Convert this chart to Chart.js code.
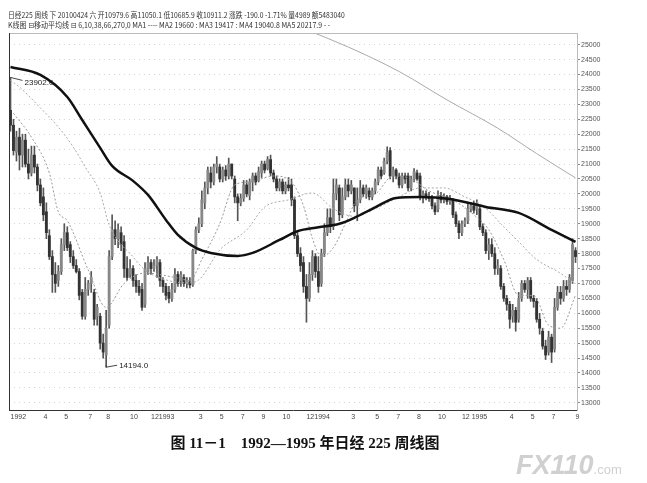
<!DOCTYPE html>
<html>
<head>
<meta charset="utf-8">
<script src="https://cdn.jsdelivr.net/npm/chart.js@4.4.0/dist/chart.umd.min.js"></script>
<style>
  body { margin: 0; background: #fff; }
  #wrap { position: relative; width: 647px; height: 483px; overflow: hidden; }
  #c { position: absolute; left: 0; top: 0; }
  .hdr { position: absolute; left: 8px; white-space: nowrap; color: #333;
         font-family: "Noto Sans CJK SC", "DejaVu Sans", sans-serif; font-size: 8px;
         transform-origin: 0 0; }
  #title { position: absolute; left: 0; width: 610px; top: 431px; text-align: center;
           font-family: "Liberation Serif", "Noto Sans CJK SC", serif; font-weight: bold;
           font-size: 15px; color: #111; }
  #wm { position: absolute; left: 516px; top: 450px; color: #d0d0d0;
        font-family: "Liberation Sans", sans-serif; font-weight: bold; font-style: italic;
        font-size: 27px; }
  #wm span { font-size: 13px; font-style: normal; font-weight: normal; }
</style>
</head>
<body>
<div id="wrap">
  <canvas id="c" width="647" height="483"></canvas>
  <div class="hdr" id="h1" style="top:9px">日经225 周线 下 20100424 六 开10979.6 高11050.1 低10685.9 收10911.2 涨跌 -190.0 -1.71% 量4989 额5483040</div>
  <div class="hdr" id="h2" style="top:19px">K线图 ⊟移动平均线 ⊟ 6,10,38,66,270,0 MA1 ---- MA2 19660 : MA3 19417 : MA4 19040.8 MA5 20217.9 - -</div>
  <div id="title">图 11－1　1992—1995 年日经 225 周线图</div>
  <div id="wm">FX110<span>.com</span></div>
</div>
<script>
// 週K線資料 (1992-1995)
const opens = [22800,22300,21400,21900,21300,21800,21000,20700,21300,20900,
  20300,19900,19400,18600,17900,17300,17100,17400,18300,18700,
  18300,17900,17600,17400,16700,15900,16800,17000,16700,15900,
  15900,15000,14600,15600,17900,18800,18500,18700,18400,17500,
  17300,17500,17100,16900,16800,16300,17400,17700,17500,17600,
  17700,17100,16900,16700,16500,16800,17300,17100,17200,17000,
  17050,16950,18100,18800,19000,19700,20200,20700,20400,20900,
  20900,20500,20800,20600,21000,20500,19900,19700,19850,20300,
  19950,20400,20600,20450,20700,21000,20850,21150,20700,20500,
  20200,20400,20100,20300,20300,19800,18600,18000,17700,16900,
  16500,17300,17900,17400,17000,18000,18700,19200,18900,20000,
  20200,19300,19900,20300,20100,20200,19600,19800,20200,20000,
  20100,19900,20100,20400,20800,20700,21100,21450,20600,20800,
  20600,20300,20600,20600,20200,20500,20700,20600,19900,20000,
  19900,19850,19600,19500,19950,19800,19900,19750,19800,19300,
  19000,18700,19000,19100,19500,19600,19500,19500,18900,18700,
  18100,18300,18000,17500,17500,16900,16500,16300,15900,16100,
  15800,16500,17000,16800,17100,16500,16400,15800,15400,14900,
  14700,15200,14800,16200,16700,16500,16900,16800,17100,18100];
const closes = [22300,21450,21900,21300,21800,21000,20700,21300,20900,20300,
  19700,19300,18700,17900,17300,17000,17400,18300,18700,18200,
  17900,17600,17400,16600,15900,16800,17000,17200,15800,16200,
  15000,14700,15500,17900,18800,18500,18800,18300,17500,17200,
  17500,17100,16900,16700,16200,17500,17700,17500,17600,17800,
  17100,16900,16600,16500,16800,17300,17000,17300,17000,17100,
  16950,18100,18800,19000,19800,20200,20800,20400,20900,21000,
  20500,20800,20600,21000,20600,19900,19700,19850,20300,20000,
  20400,20600,20400,20750,21000,20800,21150,20700,20500,20200,
  20400,20100,20300,20200,19800,18600,18000,17600,16900,16500,
  17300,17900,17400,16900,18000,18700,19200,18900,20000,20300,
  19300,19900,20300,20100,20300,19600,19800,20200,20000,20200,
  19900,20100,20400,20800,20600,21100,21400,20600,20800,20600,
  20300,20600,20500,20200,20500,20750,20500,19900,20000,19900,
  19850,19600,19400,19950,19800,19900,19750,19850,19300,19000,
  18700,19000,19100,19500,19600,19450,19700,18900,18700,18100,
  18300,18000,17500,17600,16900,16500,16300,15800,16100,15700,
  16500,17000,16800,17100,16500,16400,15800,15500,14900,14600,
  15200,14700,16200,16700,16500,16900,16800,17200,18300,17900];
const highs = [23902,22500,22100,22200,22000,22000,21500,21600,21600,21000,
  20500,20200,19700,18800,18100,17700,17600,18500,19000,18900,
  18400,18100,17800,17500,16800,17200,17100,17400,16800,16300,
  16000,15300,16100,18100,19300,19100,19000,18900,18600,17900,
  17800,17600,17300,17100,17000,17700,17900,17800,17800,17900,
  17800,17200,17000,16900,17000,17500,17400,17400,17300,17200,
  17200,18150,18900,19200,20100,20400,20900,20900,21000,21250,
  21000,20900,20950,21200,21000,20600,20000,20000,20450,20450,
  20500,20700,20700,20900,21100,21100,21250,21300,20800,20600,
  20500,20500,20400,20550,20500,19900,18700,18200,17900,17300,
  17700,18100,18000,17900,18150,19000,19500,19500,20500,20500,
  20300,20200,20500,20500,20450,20200,20200,20450,20300,20300,
  20200,20200,20500,20900,20900,21200,21580,21550,20900,20850,
  20700,20700,20700,20700,20600,20850,20800,20700,20100,20100,
  20050,19950,19700,20100,20050,20000,19950,19950,19850,19400,
  19100,19100,19200,19700,19700,19750,19800,19600,19000,18800,
  18500,18500,18200,17800,17600,17000,16600,16400,16300,16200,
  16700,17100,17100,17200,17200,16600,16500,16000,15500,15100,
  15400,15300,16500,16900,16900,17100,17100,17300,18500,18200];
const lows = [22100,21300,21100,20800,20900,20900,20500,20600,20700,20100,
  19600,19100,18500,17800,16700,16700,16900,17300,18100,18100,
  17700,17500,17350,16450,15800,15800,16600,16700,15600,15600,
  14800,14500,14194,15500,17800,18300,18200,18100,17200,17100,
  17200,16900,16700,16600,16100,16200,17300,17300,17400,17200,
  16900,16700,16450,16350,16400,16700,16900,16900,16900,16850,
  16850,16900,18000,18700,18900,19500,20000,20200,20300,20700,
  20400,20400,20450,20500,20500,19700,19100,19600,19750,19900,
  19800,20100,20300,20400,20550,20700,20800,20600,20400,20100,
  20100,20000,20000,20100,19600,18500,17900,17400,16700,15700,
  16400,17100,17200,16700,16900,17900,18600,18700,18800,19800,
  19100,19200,19800,19900,20000,19400,19100,19700,19900,19850,
  19800,19800,20000,20300,20500,20650,21000,20500,20400,20500,
  20200,20200,20350,20100,20100,20400,20450,19800,19700,19800,
  19750,19500,19300,19400,19700,19700,19650,19650,19200,18900,
  18500,18600,18900,19000,19400,19350,19300,18800,18600,18000,
  17800,17900,17300,17300,16800,16400,16100,15500,15700,15400,
  15700,16400,16700,16500,16400,16200,15700,15300,14800,14450,
  14600,14350,14700,16100,16300,16400,16600,16700,17000,17700];

// 均線 (讀圖取點)
const maThickIdx = [0,10,19,24,30,34,41,46,52,56,62,67,76,81,90,96,103,110,115,122,129,137,147,159,170,181,189];
const maThickVal = [24253,23985,23248,22475,21540,20937,20435,19965,19127,18625,18190,18022,17922,18022,18457,18750,18880,19000,19200,19550,19865,19898,19831,19563,19362,18793,18391];
const maLongIdx = [100,113,130,146,163,176,189];
const maLongVal = [25460,24920,24100,23150,22200,21350,20535];
const maMedIdx = [0,3,10,16,21,25,30,33,41,45,52,59,63,70,79,85,93,101,108,115,122,130,137,145,152,158,165,170,176,183,189];
const maMedVal = [23800,23580,22880,22240,21570,20900,20030,18960,17890,17450,17120,17020,17120,18120,18790,19560,19800,20030,19500,19250,19500,19900,20200,20200,19900,19600,18900,18400,17800,17400,17000];
const maFastIdx = [1,7,13,16,19,26,32,38,45,55,60,64,70,75,80,88,94,98,101,104,108,112,116,122,128,134,140,148,155,160,165,170,175,180,184,189];
const maFastVal = [22700,21900,20700,19400,19100,17450,16200,17000,17350,17200,17100,17800,19000,20300,20400,20600,20400,19600,18500,17900,18200,19000,19800,20000,20600,20500,20100,19800,19300,18800,17800,16600,16600,15600,15500,16600];

// X 軸刻度文字 (週序號 → 文字)
const xTickIdx = [0,11,18,26,32,40,47,63,70,77,84,91,99,114,122,129,136,143,151,167,174,181,189];
const xTickText = ["1992","4","5","7","8","10","121993","3","5","7","9","10","121994","3","5","7","8","10","12 1995","4","5","7","9"];
const yTicks = [13000,13500,14000,14500,15000,15500,16000,16500,17000,17500,18000,18500,19000,19500,20000,20500,21000,21500,22000,22500,23000,23500,24000,24500,25000];

// 標註
const markHigh = { idx: 0, text: "23902.0" };
const markLow = { idx: 32, text: "14194.0" };

const N = closes.length;
const labels = closes.map((_, i) => i);

function sparse(idx, vals) {
  const arr = new Array(N).fill(null);
  idx.forEach((k, j) => { arr[k] = vals[j]; });
  return arr;
}

const frame = {
  id: "frame",
  afterDraw(chart) {
    const { ctx, chartArea: a } = chart;
    ctx.save();
    ctx.strokeStyle = "#bbb";
    ctx.lineWidth = 1;
    ctx.beginPath();
    ctx.moveTo(a.left, a.top + 0.5); ctx.lineTo(a.right, a.top + 0.5);
    ctx.stroke();
    ctx.strokeStyle = "#333";
    ctx.beginPath();
    ctx.moveTo(a.left + 0.5, a.top); ctx.lineTo(a.left + 0.5, a.bottom);
    ctx.stroke();
    // 高低點標註
    const xs = chart.scales.x, ys = chart.scales.y;
    ctx.fillStyle = "#222";
    ctx.strokeStyle = "#444";
    ctx.font = "8px 'Liberation Sans', sans-serif";
    ctx.textBaseline = "middle";
    let px = xs.getPixelForValue(markHigh.idx), py = ys.getPixelForValue(highs[markHigh.idx]);
    ctx.beginPath(); ctx.moveTo(px, py); ctx.lineTo(px + 12, py + 3); ctx.stroke();
    ctx.fillText(markHigh.text, px + 14, py + 5);
    px = xs.getPixelForValue(markLow.idx); py = ys.getPixelForValue(lows[markLow.idx]);
    ctx.beginPath(); ctx.moveTo(px, py - 2); ctx.lineTo(px, py); ctx.lineTo(px + 11, py - 2); ctx.stroke();
    ctx.fillText(markLow.text, px + 13, py - 1);
    ctx.restore();
  }
};

new Chart(document.getElementById("c"), {
  type: "bar",
  data: {
    labels: labels,
    datasets: [
      {
        type: "line", data: sparse(maThickIdx, maThickVal), borderColor: "#111",
        borderWidth: 2.5, pointRadius: 0, spanGaps: true, cubicInterpolationMode: "monotone", order: 0,
      },
      {
        type: "line", data: sparse(maLongIdx, maLongVal), borderColor: "#aaa",
        borderWidth: 1, pointRadius: 0, spanGaps: true, cubicInterpolationMode: "monotone", order: 1,
      },
      {
        type: "line", data: sparse(maMedIdx, maMedVal), borderColor: "#aaa", borderDash: [2, 2],
        borderWidth: 1, pointRadius: 0, spanGaps: true, cubicInterpolationMode: "monotone", order: 1,
      },
      {
        type: "line", data: sparse(maFastIdx, maFastVal), borderColor: "#999", borderDash: [2, 2],
        borderWidth: 1, pointRadius: 0, spanGaps: true, cubicInterpolationMode: "monotone", order: 1,
      },
      {
        data: lows.map((l, i) => [l, highs[i]]), backgroundColor: "#555",
        barThickness: 1, grouped: false, order: 3,
      },
      {
        data: opens.map((o, i) => [o, closes[i]]),
        backgroundColor: closes.map((c, i) => (c >= opens[i] ? "#888" : "#333")),
        barThickness: 2.2, minBarLength: 1, grouped: false, order: 2,
      },
    ],
  },
  options: {
    animation: false,
    responsive: false,
    layout: { padding: { left: 9, top: 33, right: 0, bottom: 60 } },
    plugins: { legend: { display: false }, tooltip: { enabled: false } },
    scales: {
      x: {
        offset: true,
        grid: { display: false, drawTicks: false },
        border: { color: "#333" },
        afterFit: (s) => { s.height = 13; },
        ticks: {
          autoSkip: false, maxRotation: 0, minRotation: 0, align: "start", padding: 3,
          color: "#444", font: { size: 7, family: "'Liberation Sans', sans-serif" },
          callback: (v, i) => { const k = xTickIdx.indexOf(i); return k >= 0 ? xTickText[k] : ""; },
        },
      },
      y: {
        position: "right",
        min: 12760, max: 25390,
        afterFit: (s) => { s.width = 70; },
        afterBuildTicks: (s) => { s.ticks = yTicks.map((v) => ({ value: v })); },
        grid: { color: "rgba(0,0,0,0.16)", tickColor: "#888", tickLength: 3, tickBorderDash: [] },
        border: { color: "#bbb", dash: [1, 4] },
        ticks: {
          padding: 1, color: "#555", font: { size: 7, family: "'Liberation Sans', sans-serif" },
          callback: (v) => String(v),
        },
      },
    },
  },
  plugins: [frame],
});

// 頂部資訊列寬度調整
[["h1", 337], ["h2", 322]].forEach(([id, w]) => {
  const el = document.getElementById(id);
  el.style.transform = `scaleX(${w / el.offsetWidth})`;
});
</script>
</body>
</html>
